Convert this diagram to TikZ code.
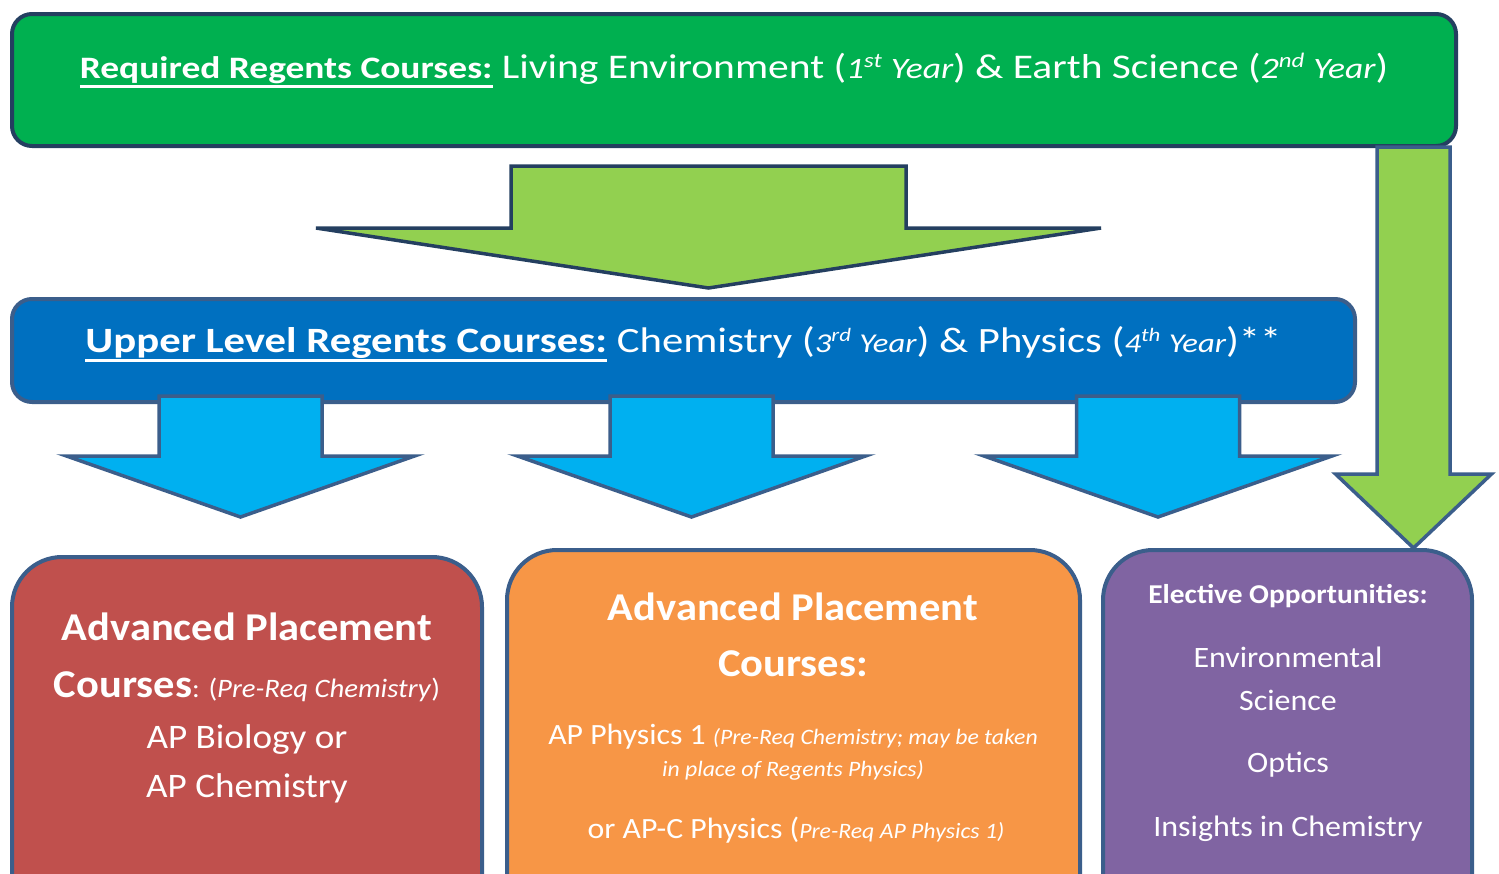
\documentclass[tikz,border=0pt]{standalone}
\usepackage{fontspec}
\setmainfont{Carlito}[FakeStretch=1.2]
\newfontfamily\boxfont{Carlito}[FakeStretch=1.08]

\definecolor{regentsgreen}{HTML}{00B050}
\definecolor{navyline}{HTML}{243F60}
\definecolor{arrowgreen}{HTML}{92D050}
\definecolor{upperblue}{HTML}{0070C0}
\definecolor{steelline}{HTML}{3B5E8B}
\definecolor{arrowcyan}{HTML}{00B0F0}
\definecolor{apred}{HTML}{C0504D}
\definecolor{aporange}{HTML}{F79646}
\definecolor{electpurple}{HTML}{8064A2}

\tikzstyle{title box}=[line width=2pt, rounded corners=10pt, inner sep=0pt]
\tikzstyle{course box}=[draw=steelline, line width=2pt, rounded corners=25pt, inner sep=0pt]
\tikzstyle{block arrow}=[draw=steelline, line width=1.75pt, line join=miter]
\tikzstyle{box text}=[text=white, anchor=base, inner sep=0pt]

\newsavebox{\headbox}
\newcommand{\headline}[1]{\sbox{\headbox}{\bfseries #1}\rlap{\rule[-5pt]{\wd\headbox}{1.4pt}}\usebox{\headbox}}
\newcommand{\yr}[3]{{\itshape\fontsize{#1}{#1}\selectfont #2\textsuperscript{#3} Year}}

\begin{document}
\begin{tikzpicture}[x=0.5pt, y=-0.5pt]
  \useasboundingbox (0,0) rectangle (1499,873);
  \clip (0,0) rectangle (1499,873);

  % required courses
  \node[title box, draw=navyline, fill=regentsgreen, minimum width=722pt, minimum height=66pt] (req) at (734,80) {};
  \node[box text, font=\fontsize{17.3}{21}\selectfont] (reqtext) at (734,78)
    {\headline{\fontsize{15.6}{19}\selectfont Required Regents Courses:} Living Environment (\yr{14.8}{1}{st}) \& Earth Science (\yr{14.8}{2}{nd})};

  % side arrow to electives
  \draw[block arrow, fill=arrowgreen]
    (1377,147) -- (1450,147) -- (1450,474) -- (1491.5,474) -- (1413.5,548)
    -- (1335.5,474) -- (1377,474) -- cycle;

  % big arrow down
  \draw[block arrow, draw=navyline, fill=arrowgreen]
    (511,166) -- (906,166) -- (906,228) -- (1101,228) -- (708.5,288)
    -- (316,228) -- (511,228) -- cycle;

  % upper level courses
  \node[title box, draw=steelline, fill=upperblue, minimum width=671.5pt, minimum height=51.5pt] (upper) at (683.5,350.5) {};
  \node[box text, font=\fontsize{17.8}{21}\selectfont] (uppertext) at (683.5,352)
    {\headline{Upper Level Regents Courses:} Chemistry (\yr{13.6}{3}{rd}) \& Physics (\yr{13.6}{4}{th})**};

  \foreach \cx in {240.5, 691.5, 1158}
    \draw[block arrow, fill=arrowcyan]
      ({\cx-81.5},396) -- ({\cx+81.5},396) -- ({\cx+81.5},456) -- ({\cx+174},456)
      -- (\cx,517) -- ({\cx-174},456) -- ({\cx-81.5},456) -- cycle;

  % bottom row
  \node[course box, fill=apred, minimum width=235pt, minimum height=186.5pt] (apbio) at (247,743.5) {};
  \node[course box, fill=aporange, minimum width=286.5pt, minimum height=190pt] (apphys) at (793.5,740) {};
  \node[course box, fill=electpurple, minimum width=184.5pt, minimum height=190pt] (elect) at (1287.5,740) {};

  \node[box text, font=\boxfont\bfseries\fontsize{19.7}{23}\selectfont] (bio1) at (247,640) {Advanced Placement};
  \node[box text, font=\boxfont\fontsize{13.3}{16}\selectfont] (bio2) at (247,697)
    {{\bfseries\fontsize{19.7}{23}\selectfont Courses}: (\textit{Pre-Req Chemistry})};
  \node[box text, font=\boxfont\fontsize{17.2}{20}\selectfont] (bio3) at (247,748) {AP Biology or};
  \node[box text, font=\boxfont\fontsize{17.2}{20}\selectfont] (bio4) at (247,797) {AP Chemistry};

  \node[box text, font=\boxfont\bfseries\fontsize{19.7}{23}\selectfont] (phys1) at (793,620) {Advanced Placement};
  \node[box text, font=\boxfont\bfseries\fontsize{19.7}{23}\selectfont] (phys2) at (793,676) {Courses:};
  \node[box text, font=\boxfont\fontsize{14.7}{17}\selectfont] (phys3) at (793,744)
    {AP Physics 1 {\itshape\fontsize{11}{13}\selectfont (Pre-Req Chemistry; may be taken}};
  \node[box text, font=\boxfont\itshape\fontsize{11}{13}\selectfont] (phys4) at (793,776) {in place of Regents Physics)};
  \node[box text, font=\boxfont\fontsize{14.7}{17}\selectfont] (phys5) at (796,838)
    {or AP-C Physics ({\itshape\fontsize{11}{13}\selectfont Pre-Req AP Physics 1)}};

  \node[box text, font=\boxfont\bfseries\fontsize{13.6}{16}\selectfont] (el1) at (1288,603) {Elective Opportunities:};
  \node[box text, font=\boxfont\fontsize{14.8}{17}\selectfont] (el2) at (1288,667) {Environmental};
  \node[box text, font=\boxfont\fontsize{14.8}{17}\selectfont] (el3) at (1288,710) {Science};
  \node[box text, font=\boxfont\fontsize{14.8}{17}\selectfont] (el4) at (1288,772) {Optics};
  \node[box text, font=\boxfont\fontsize{14.8}{17}\selectfont] (el5) at (1288,836) {Insights in Chemistry};
\end{tikzpicture}
\end{document}
